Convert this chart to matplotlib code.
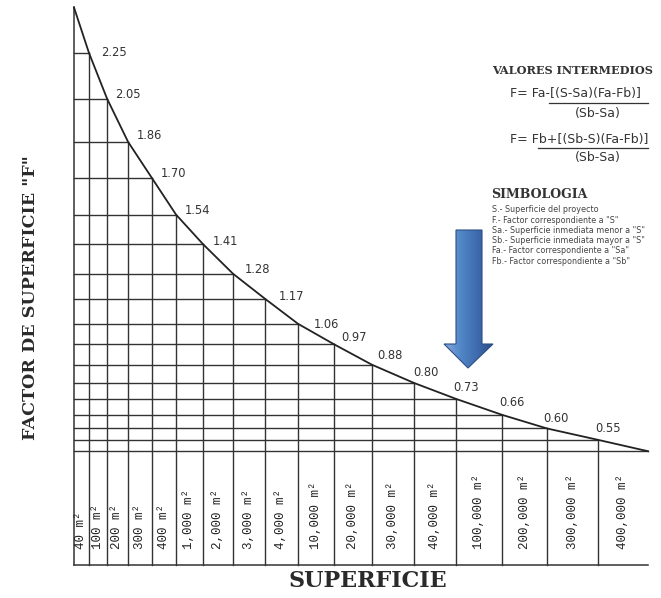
import matplotlib.pyplot as plt
import numpy as np
from matplotlib.patches import Polygon

# factor "F" at every column boundary (first and last are the curve ends)
factors = [2.45, 2.25, 2.05, 1.86, 1.70, 1.54, 1.41, 1.28, 1.17, 1.06,
           0.97, 0.88, 0.80, 0.73, 0.66, 0.60, 0.55, 0.50]
areas = ['40 m²', '100 m²', '200 m²', '300 m²', '400 m²', '1,000 m²',
         '2,000 m²', '3,000 m²', '4,000 m²', '10,000 m²', '20,000 m²',
         '30,000 m²', '40,000 m²', '100,000 m²', '200,000 m²',
         '300,000 m²', '400,000 m²']
symbols = ['S.- Superficie del proyecto',
           'F.- Factor correspondiente a "S"',
           'Sa.- Superficie inmediata menor a "S"',
           'Sb.- Superficie inmediata mayor a "S"',
           'Fa.- Factor correspondiente a "Sa"',
           'Fb.- Factor correspondiente a "Sb"']

# column boundaries across the sheet and where each value label sits
edges = [74, 89, 107, 128, 152, 176, 203, 233, 265, 298, 334, 372, 414,
         456, 502, 547, 598, 648]
label_off = [(12, 1), (8, 4), (9, 6), (9, 5), (9, 4), (10, 3), (12, 4),
             (14, 2), (16, -1), (7, 7), (5, 9), (-1, 10), (-3, 11),
             (-3, 12), (-4, 10), (-3, 11)]

W, H = 661, 598
scale = 512 / 2.25          # pixels per unit of F
base = 565                  # pixel row of F = 0

fig = plt.figure(figsize=(W / 100, H / 100), dpi=100)
ax = fig.add_axes([0, 0, 1, 1])
ax.set_xlim(0, W)
ax.set_ylim((base - H) / scale, base / scale)
ax.axis('off')

# overlay in pixel units for the side notes and the arrow
ov = fig.add_axes([0, 0, 1, 1])
ov.set_xlim(0, W)
ov.set_ylim(H, 0)
ov.axis('off')

gc = '#333333'
# axis, grid and bottom line
ax.plot([edges[0], edges[0]], [0, factors[0]], color=gc, lw=1.1)
for x, f in zip(edges[1:-1], factors[1:-1]):
    ax.plot([x, x], [0, f], color=gc, lw=1.0)
for x, f in zip(edges[1:], factors[1:]):
    ax.plot([edges[0], x], [f, f], color=gc, lw=1.0)
ax.plot([edges[0], edges[-1]], [0, 0], color=gc, lw=1.1)

# the curve
ax.plot(edges, factors, color='#222222', lw=1.3)

# value labels
for x, f, (dx, dy) in zip(edges[1:-1], factors[1:-1], label_off):
    ax.annotate(f'{f:.2f}', (x, f), xytext=(dx, dy), textcoords='offset pixels',
                ha='left', va='center', fontsize=8.3, color='#333333',
                family='DejaVu Sans')

# surface labels in the bottom band
for i, lab in enumerate(areas):
    cx = (edges[i] + edges[i + 1]) / 2
    ax.text(cx, (base - 549) / scale, lab, rotation=90, ha='center', va='bottom',
            family='Liberation Mono', fontsize=9, color='#222222')

# axis titles
ov.text(31, 298, 'FACTOR DE SUPERFICIE "F"', rotation=90, ha='center', va='center',
        family='DejaVu Serif', fontweight='bold', fontsize=12.6, color='#2a2a2a')
ov.text(368, 581, 'SUPERFICIE', ha='center', va='center',
        family='DejaVu Serif', fontweight='bold', fontsize=16, color='#2a2a2a')

# intermediate values notes
tc = '#333333'
ov.text(572, 71, 'VALORES INTERMEDIOS', ha='center', va='center',
        family='DejaVu Serif', fontweight='bold', fontsize=8.1, color=tc)
ov.text(510, 94, 'F= Fa-[(S-Sa)(Fa-Fb)]', ha='left', va='center',
        family='DejaVu Sans', fontsize=9, color=tc)
ov.plot([549, 648], [103, 103], color=tc, lw=0.9)
ov.text(598, 113, '(Sb-Sa)', ha='center', va='center',
        family='DejaVu Sans', fontsize=9, color=tc)
ov.text(510, 140, 'F= Fb+[(Sb-S)(Fa-Fb)]', ha='left', va='center',
        family='DejaVu Sans', fontsize=9, color=tc)
ov.plot([538, 648], [148, 148], color=tc, lw=0.9)
ov.text(598, 158, '(Sb-Sa)', ha='center', va='center',
        family='DejaVu Sans', fontsize=9, color=tc)

ov.text(491, 195, 'SIMBOLOGIA', ha='left', va='center',
        family='DejaVu Serif', fontweight='bold', fontsize=9, color=tc)
for k, s in enumerate(symbols):
    ov.text(492, 210 + 10.2 * k, s, ha='left', va='center',
            family='DejaVu Sans', fontsize=5.8, color='#444444')

# blue arrow pointing down at the curve
arrow = np.array([[456, 230], [482, 230], [482, 344], [493, 344],
                  [468, 368], [444, 344], [456, 344]])
grad = np.linspace(0, 1, 64).reshape(1, -1)
cmap = plt.matplotlib.colors.LinearSegmentedColormap.from_list(
    'bevel', ['#86a9da', '#5287c8', '#3f6cae', '#2b4f8a'])
img = ov.imshow(grad, extent=(444, 493, 368, 230), cmap=cmap, aspect='auto',
                zorder=3)
clip = Polygon(arrow, closed=True, transform=ov.transData)
img.set_clip_path(clip)
ov.add_patch(Polygon(arrow, closed=True, fill=False, edgecolor='#2d4f86',
                     lw=0.8, zorder=4))
ov.set_xlim(0, W)
ov.set_ylim(H, 0)

fig.savefig('out.png', dpi=100, facecolor='white')
